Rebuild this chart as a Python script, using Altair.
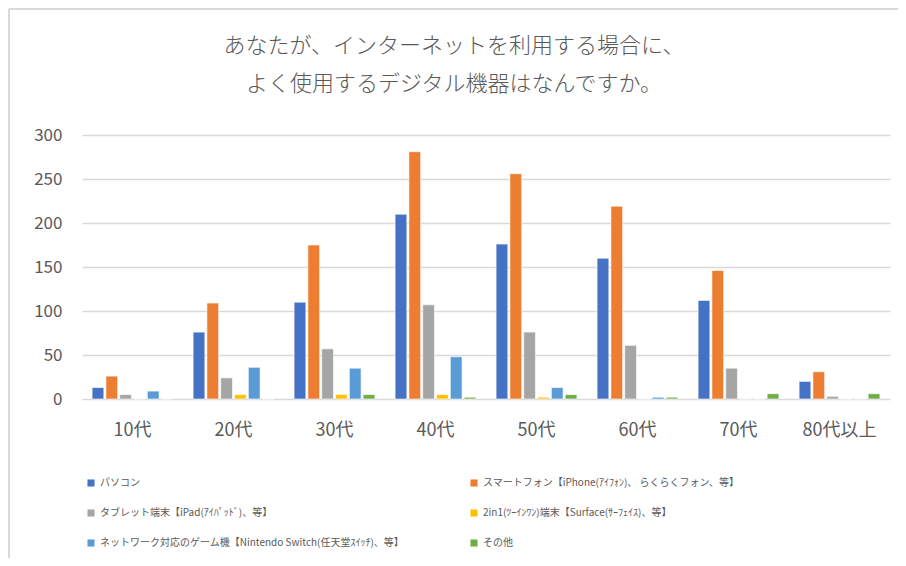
import altair as alt
import pandas as pd

ages = ["10代", "20代", "30代", "40代", "50代", "60代", "70代", "80代以上"]
series = [
    "パソコン",
    "スマートフォン【iPhone(ｱｲﾌｫﾝ)、 らくらくフォン、等】",
    "タブレット端末【iPad(ｱｲﾊﾟｯﾄﾞ)、等】",
    "2in1(ﾂｰｲﾝﾜﾝ)端末【Surface(ｻｰﾌｪｲｽ)、等】",
    "ネットワーク対応のゲーム機【Nintendo  Switch(任天堂ｽｲｯﾁ)、等】",
    "その他",
]
pc = [13, 76, 110, 210, 176, 160, 112, 20]
smartphone = [26, 109, 175, 281, 256, 219, 146, 31]
tablet = [5, 24, 57, 107, 76, 61, 35, 3]
twoinone = [0, 5, 5, 5, 2, 0, 0, 0]
game = [9, 36, 35, 48, 13, 2, 0, 0]
other = [0, 0, 5, 2, 5, 2, 6, 6]
colors = ["#4472C4", "#ED7D31", "#A5A5A5", "#FFC000", "#5B9BD5", "#70AD47"]

# legend laid out column-major in a 2-column grid: reorder so it reads row by row
legend_order = [0, 2, 4, 1, 3, 5]
legend_domain = [series[i] for i in legend_order]
legend_range = [colors[i] for i in legend_order]

rows = []
for s, vals in zip(series, [pc, smartphone, tablet, twoinone, game, other]):
    for a, v in zip(ages, vals):
        rows.append({"age": a, "series": s, "value": v})
df = pd.DataFrame(rows)

FONT = "Noto Sans CJK JP"

bars = alt.Chart(df).mark_bar(stroke="white", strokeWidth=0.6).encode(
    x=alt.X("age:N", sort=ages, title=None,
            scale=alt.Scale(paddingInner=0.2, paddingOuter=0.1),
            axis=alt.Axis(labelAngle=0, labelFontSize=18, labelColor="#595959",
                          labelPadding=22, domain=False, ticks=False, labelFont=FONT)),
    xOffset=alt.XOffset("series:N", sort=series, scale=alt.Scale(paddingInner=0.15)),
    y=alt.Y("value:Q", title=None,
            scale=alt.Scale(domain=[0, 300]),
            axis=alt.Axis(values=[0, 50, 100, 150, 200, 250, 300], labelFontSize=17,
                          labelColor="#595959", labelPadding=20, domain=False, ticks=False,
                          gridColor="#d9d9d9", gridWidth=1.5, labelFont=FONT)),
    color=alt.Color("series:N",
                    scale=alt.Scale(domain=legend_domain, range=legend_range),
                    legend=alt.Legend(title=None, orient="none", legendX=4, legendY=343,
                                      columns=2, columnPadding=62, rowPadding=20,
                                      symbolType="square", symbolSize=50,
                                      symbolStrokeWidth=0, labelFontSize=10,
                                      labelColor="#595959", labelFont=FONT,
                                      labelLimit=400, labelOffset=4)),
)

frame_src = pd.DataFrame({"k": [0]})
top_line = alt.Chart(frame_src).mark_rule(color="#d9d9d9", strokeWidth=2).encode(
    x=alt.value(-73), x2=alt.value(816), y=alt.value(-126))
left_line = alt.Chart(frame_src).mark_rule(color="#d9d9d9", strokeWidth=2).encode(
    x=alt.value(-73), y=alt.value(-126), y2=alt.value(431))

chart = alt.layer(bars, top_line, left_line).properties(
    width=808, height=264,
    title=alt.TitleParams(
        ["あなたが、インターネットを利用する場合に、", "よく使用するデジタル機器はなんですか。"],
        fontSize=22, fontWeight=300, color="#595959", font=FONT,
        anchor="middle", frame="group", dx=-32, offset=-88, lineHeight=38,
    ),
    autosize=alt.AutoSizeParams(type="none"),
    padding={"left": 74, "top": 127, "right": 8, "bottom": 159},
).configure_view(stroke=None)

chart.save("out.html", embed_options={"renderer": "svg", "actions": False})
